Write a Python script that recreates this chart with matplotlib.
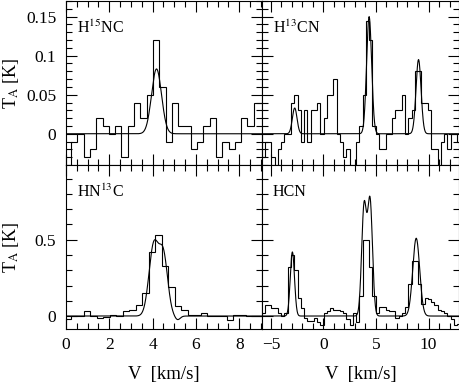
import matplotlib
matplotlib.use("Agg")
import matplotlib.pyplot as plt
import numpy as np
from matplotlib.ticker import MultipleLocator, FuncFormatter

plt.rcParams['font.family'] = ['Liberation Serif', 'DejaVu Serif']
plt.rcParams['mathtext.fontset'] = 'stix'

# ---- spectra (channel values, K) ----
h15nc_start, h15nc_width = -0.06, 0.291
h15nc_vals = [-0.045, -0.01, 0.0, -0.03, -0.02, 0.02, 0.01, 0.0, 0.01, -0.03,
              0.01, 0.04, 0.02, 0.05, 0.12, 0.06, -0.01, 0.04, 0.01, 0.01,
              -0.02, -0.01, 0.01, 0.02, -0.03, -0.01, -0.02, -0.01, 0.02, 0.01,
              0.04, 0.04]

h13cn_start, h13cn_width = -5.87, 0.31
h13cn_vals = [-0.03, -0.01, -0.01, -0.03, -0.05, -0.02, -0.01, 0.0, 0.0, 0.04,
              0.05, 0.03, -0.01, 0.03, -0.01, 0.03, 0.03, 0.04, 0.0, 0.02,
              0.05, 0.05, 0.07, 0.0, -0.01, -0.03, -0.02, -0.045, -0.045, -0.01,
              0.01, 0.05, 0.145, 0.12, 0.01, 0.0, -0.02, -0.02, 0.0, 0.0,
              0.02, 0.03, 0.03, 0.05, 0.0, 0.02, 0.03, 0.08, 0.08, 0.04,
              0.04, 0.03, -0.02, -0.02, -0.05, -0.01, 0.0, -0.02, 0.0, 0.0,
              -0.01]

hn13c_start, hn13c_width = -0.08, 0.30
hn13c_vals = [-0.02, 0.0, 0.0, 0.03, 0.0, -0.015, -0.005, 0.01, 0.0, 0.03,
              0.04, 0.07, 0.15, 0.42, 0.53, 0.33, 0.19, 0.065, 0.04, 0.01,
              0.005, 0.02, 0.0, 0.0, 0.0, -0.025, 0.01, 0.01, 0.0, 0.0,
              0.0]

hcn_start, hcn_width = -5.87, 0.31
hcn_vals = [0.02, 0.07, 0.07, 0.05, 0.05, 0.02, 0.0, 0.02, 0.32, 0.40,
            0.30, 0.12, 0.05, -0.01, -0.035, -0.035, -0.01, -0.04, -0.06, 0.02,
            0.03, 0.05, 0.04, 0.04, 0.03, 0.02, -0.02, -0.06, 0.02, -0.04,
            0.13, 0.50, 0.50, 0.32, 0.13, 0.02, 0.06, 0.06, 0.04, 0.03,
            0.03, -0.01, 0.0, 0.02, 0.06, 0.21, 0.36, 0.36, 0.21, 0.08,
            0.12, 0.11, 0.09, 0.07, 0.04, 0.03, 0.02, 0.0, -0.02, -0.06,
            -0.05]

# ---- fitted components: amplitude, centre (km/s), sigma (km/s) ----
h15nc_fit = ([0.083], [4.18], [0.23])
h13cn_fit = ([0.033, 0.15, 0.095], [-2.73, 4.35, 9.05], [0.22, 0.24, 0.24])
hn13c_fit = ([0.46, 0.385, -0.025], [4.05, 4.5, 5.15], [0.22, 0.2, 0.12])
hcn_fit = ([0.42, 0.716, 0.747, 0.51], [-2.95, 3.87, 4.44, 8.83], [0.2, 0.23, 0.23, 0.33])

labels = [r"H$^{15}$NC", r"H$^{13}$CN", r"HN$^{13}$C", "HCN"]


def fit_curve(v, params):
    amps, cens, sigs = params
    y = np.zeros_like(v)
    for a, c, s in zip(amps, cens, sigs):
        y += a * np.exp(-0.5 * ((v - c) / s) ** 2)
    return y


def fmt(v, pos):
    return f"{v:g}".replace("-", "\u2212")


fig = plt.figure(figsize=(4.6, 3.84), dpi=100)
x0, xm, x1 = 66 / 460, 262 / 460, 459 / 460
y1, ym, y0 = 1 - 1 / 384, 1 - 165 / 384, 1 - 329 / 384

axes = [
    fig.add_axes([x0, ym, xm - x0, y1 - ym]),
    fig.add_axes([xm, ym, x1 - xm, y1 - ym]),
    fig.add_axes([x0, y0, xm - x0, ym - y0]),
    fig.add_axes([xm, y0, x1 - xm, ym - y0]),
]

panels = [
    (h15nc_start, h15nc_width, h15nc_vals, h15nc_fit),
    (h13cn_start, h13cn_width, h13cn_vals, h13cn_fit),
    (hn13c_start, hn13c_width, hn13c_vals, hn13c_fit),
    (hcn_start, hcn_width, hcn_vals, hcn_fit),
]

for i, (ax, (start, width, vals, fit)) in enumerate(zip(axes, panels)):
    edges = start + width * np.arange(len(vals) + 1)
    ax.stairs(vals, edges, color="black", lw=0.8)
    if i % 2 == 0:
        ax.set_xlim(0, 9.05)
        ax.xaxis.set_major_locator(MultipleLocator(2))
        ax.xaxis.set_minor_locator(MultipleLocator(0.5))
        v = np.linspace(0, 9.05, 800)
    else:
        ax.set_xlim(-5.84, 12.9)
        ax.xaxis.set_major_locator(MultipleLocator(5))
        ax.xaxis.set_minor_locator(MultipleLocator(1))
        v = np.linspace(-5.84, 12.9, 1200)
    ax.plot(v, fit_curve(v, fit), color="black", lw=0.8)
    if i < 2:
        ax.set_ylim(-0.04, 0.17)
        ax.yaxis.set_major_locator(MultipleLocator(0.05))
        ax.yaxis.set_minor_locator(MultipleLocator(0.01))
    else:
        ax.set_ylim(-0.085, 0.99)
        ax.yaxis.set_major_locator(MultipleLocator(0.5))
        ax.yaxis.set_minor_locator(MultipleLocator(0.1))
    ax.tick_params(which="both", direction="in", top=True, right=True,
                   width=0.8, labelsize=12.5)
    ax.tick_params(which="major", length=8)
    ax.tick_params(which="minor", length=4)
    ax.xaxis.set_major_formatter(FuncFormatter(fmt))
    ax.yaxis.set_major_formatter(FuncFormatter(fmt))
    if i < 2:
        ax.tick_params(labelbottom=False)
    else:
        ax.tick_params(axis="x", pad=6)
    if i % 2 == 1:
        ax.tick_params(labelleft=False)
    else:
        ax.tick_params(axis="y", pad=7)
    for s in ax.spines.values():
        s.set_linewidth(0.8)
    ax.text(0.056, 0.835, labels[i], transform=ax.transAxes, fontsize=11.5,
            ha="left", va="center")

fig.text(0.024, (y1 + ym) / 2, r"T$_{\rm A}$ [K]", rotation=90,
         ha="center", va="center", fontsize=13)
fig.text(0.024, (ym + y0) / 2, r"T$_{\rm A}$ [K]", rotation=90,
         ha="center", va="center", fontsize=13)
fig.text((x0 + xm) / 2, 0.026, "V  [km/s]", ha="center", va="center", fontsize=13.5)
fig.text((xm + x1) / 2, 0.026, "V  [km/s]", ha="center", va="center", fontsize=13.5)

fig.savefig("out.png", dpi=100)
